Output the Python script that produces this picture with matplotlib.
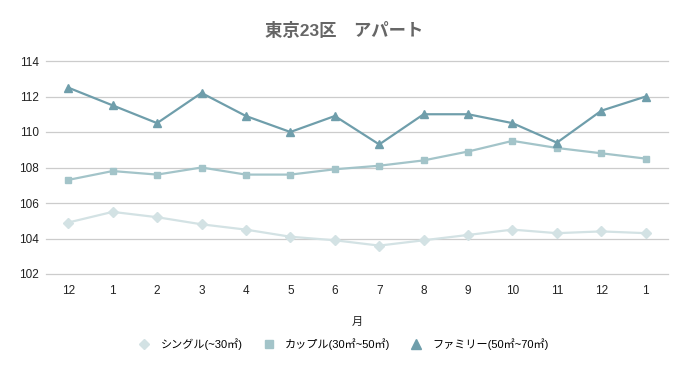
import matplotlib
matplotlib.use('Agg')
import matplotlib.pyplot as plt
from matplotlib.lines import Line2D

plt.rcParams['font.family'] = ['Liberation Sans', 'Noto Sans CJK JP', 'DejaVu Sans']

months = ['12', '1', '2', '3', '4', '5', '6', '7', '8', '9', '10', '11', '12', '1']
single = [104.9, 105.5, 105.2, 104.8, 104.5, 104.1, 103.9, 103.6, 103.9, 104.2, 104.5, 104.3, 104.4, 104.3]
couple = [107.3, 107.8, 107.6, 108.0, 107.6, 107.6, 107.9, 108.1, 108.4, 108.9, 109.5, 109.1, 108.8, 108.5]
family = [112.5, 111.5, 110.5, 112.2, 110.9, 110.0, 110.9, 109.3, 111.0, 111.0, 110.5, 109.4, 111.2, 112.0]

names = ['シングル(~30㎡)', 'カップル(30㎡~50㎡)', 'ファミリー(50㎡~70㎡)']
colors = ['#d3e2e4', '#a3c4c9', '#6f9eab']
markers = ['D', 's', '^']
sizes = [5, 5, 6]

fig = plt.figure(figsize=(6.88, 3.71), dpi=100)
ax = fig.add_axes([46/688, 1-274/371, 622/688, 213/371])

x = list(range(len(months)))
handles = []
for vals, name, c, m, ms in zip([single, couple, family], names, colors, markers, sizes):
    ax.plot(x, vals, color=c, lw=1.6, marker=m, ms=ms)
    handles.append(Line2D([], [], ls='none', marker=m, ms=ms + 0.5, color=c, label=name))

ax.set_xlim(-0.5, len(months) - 0.5)
ax.set_ylim(102, 114)
ax.set_yticks(range(102, 115, 2))
ax.set_xticks(x)
ax.set_xticklabels(months)
ax.grid(axis='y', color='#cccccc', lw=0.9)
for gl in ax.get_ygridlines():
    gl.set_clip_on(False)
ax.set_axisbelow(True)
for s in ax.spines.values():
    s.set_visible(False)
ax.tick_params(length=0, labelsize=8.5, colors='#222222', pad=8)
ax.tick_params(axis='y', pad=5)
ax.set_xlabel('月', fontsize=8, color='#222222', labelpad=14)

fig.suptitle('東京23区　アパート', x=0.5, y=1-30/371, va='center', fontsize=12.5,
             fontweight='bold', color='#666666',
             family=['Liberation Sans', 'Noto Sans CJK JP'])
fig.legend(handles=handles, loc='center', bbox_to_anchor=(0.5, 1-344/371), ncol=3,
           frameon=False, fontsize=8, handlelength=1.0, columnspacing=1.8,
           handletextpad=1.0)

fig.savefig('out.png', dpi=100)
